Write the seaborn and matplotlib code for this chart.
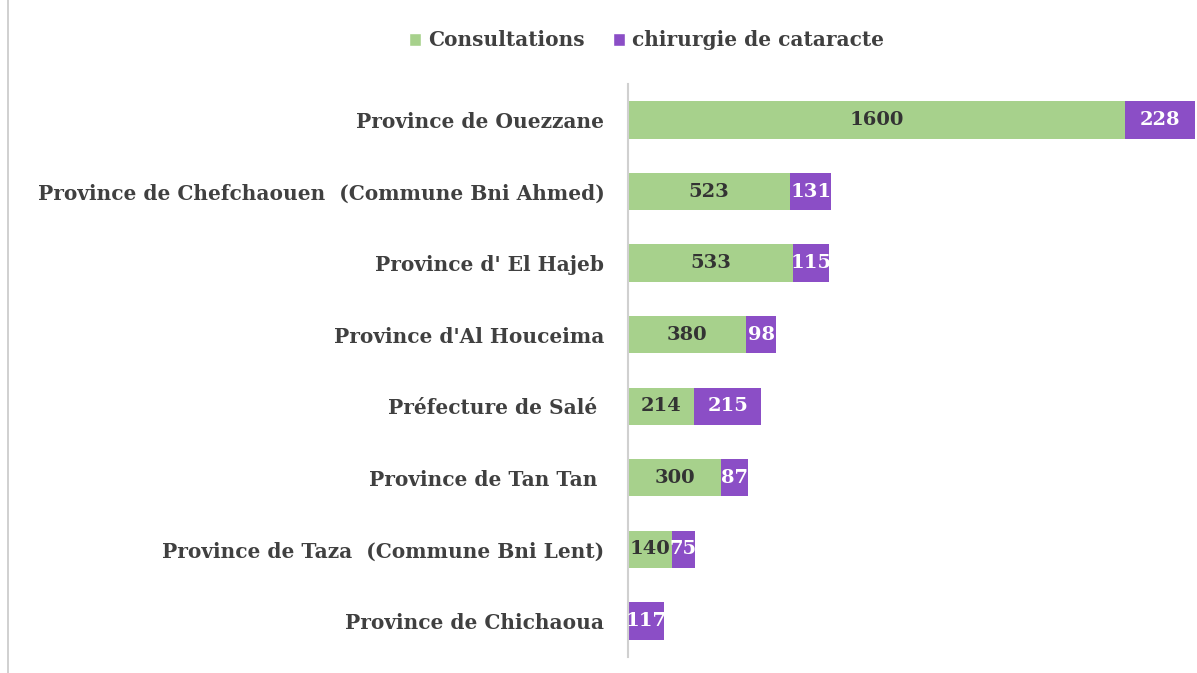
import numpy as np
import pandas as pd
import matplotlib
matplotlib.use('Agg')
import matplotlib.pyplot as plt
import seaborn as sns
from matplotlib.patches import Patch
from matplotlib.lines import Line2D

# Data
provinces = ['Province de Ouezzane',
             'Province de Chefchaouen  (Commune Bni Ahmed)',
             "Province d' El Hajeb",
             "Province d'Al Houceima",
             'Préfecture de Salé ',
             'Province de Tan Tan ',
             'Province de Taza  (Commune Bni Lent)',
             'Province de Chichaoua']
consultations = [1600, 523, 533, 380, 214, 300, 140, 0]
chirurgie = [228, 131, 115, 98, 215, 87, 75, 117]

green = '#A7D18C'
purple = '#8B4EC6'
text_col = '#404040'

df = pd.DataFrame({'province': provinces,
                   'consultations': consultations,
                   'chirurgie': chirurgie})
df['total'] = df['consultations'] + df['chirurgie']

sns.set_style('white')
plt.rcParams['font.family'] = ['DejaVu Serif']
plt.rcParams['font.weight'] = 'bold'

fig = plt.figure(figsize=(11.97, 6.73), dpi=100)
ax = fig.add_axes([0.5247, 0.024, 0.4745, 0.851])

sns.barplot(data=df, x='total', y='province', color=purple, width=0.52,
            saturation=1, linewidth=0, ax=ax)
sns.barplot(data=df, x='consultations', y='province', color=green, width=0.52,
            saturation=1, linewidth=0, ax=ax)

ax.set_xlim(0, 1830)
ax.set_xlabel('')
ax.set_ylabel('')
ax.set_xticks([])
for s in ['top', 'right', 'bottom']:
    ax.spines[s].set_visible(False)
ax.spines['left'].set_color('#d0d0d0')
ax.spines['left'].set_linewidth(1.5)
ax.tick_params(axis='y', length=0, pad=17)
for lbl in ax.get_yticklabels():
    lbl.set_fontsize(14.5)
    lbl.set_fontweight('bold')
    lbl.set_color(text_col)

# value labels
for i, row in df.iterrows():
    c = row['consultations']
    p = row['chirurgie']
    if c > 0:
        ax.text(c / 2, i, str(c), ha='center', va='center', fontsize=14,
                fontweight='bold', color='#333333')
    ax.text(c + p / 2, i, str(p), ha='center', va='center', fontsize=14,
            fontweight='bold', color='white')

handles = [Patch(facecolor=green, label='Consultations'),
           Patch(facecolor=purple, label='chirurgie de cataracte')]
leg = fig.legend(handles=handles, loc='center', bbox_to_anchor=(0.54, 0.94),
                 ncol=2, frameon=False, fontsize=14.5, handlelength=0.6,
                 handleheight=0.6, handletextpad=0.35, columnspacing=1.4)
for t in leg.get_texts():
    t.set_color(text_col)
    t.set_fontweight('bold')

# thin frame line at the left edge
fig.add_artist(Line2D([0.007, 0.007], [0.0, 1.0], color='#c8c8c8', lw=1.2))

fig.savefig('out.png', dpi=100)
